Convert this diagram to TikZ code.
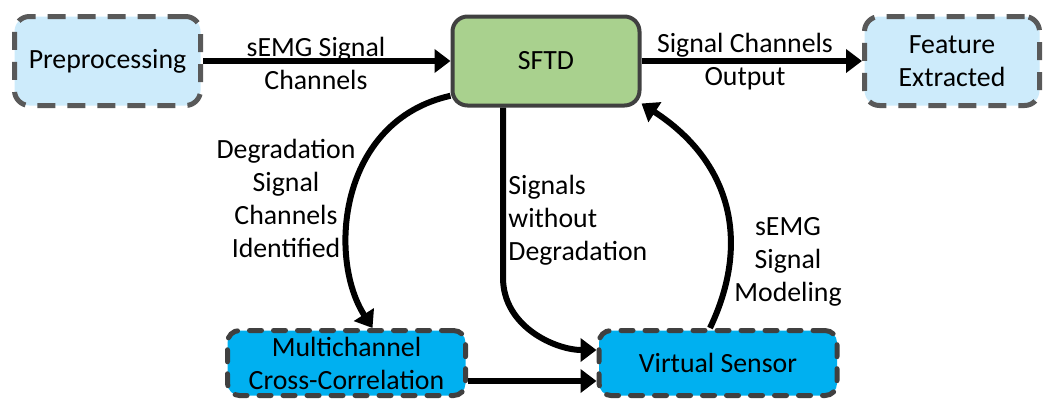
\documentclass[tikz,border=0pt]{standalone}
\usepackage{fontspec}
\setmainfont{Carlito}
\usetikzlibrary{arrows.meta,calc}
\definecolor{lightfill}{HTML}{CDEBFB}
\definecolor{bluefill}{HTML}{00B0F0}
\definecolor{greenfill}{HTML}{A9D18E}
\definecolor{dashgray}{HTML}{595959}
\definecolor{darkgray}{HTML}{404040}
\tikzset{
  topbox/.style={draw=dashgray, fill=lightfill, line width=2.5pt, dash pattern=on 9pt off 6pt,
    rounded corners=7.5pt, minimum height=44.5pt, align=center, inner sep=2pt},
  mainbox/.style={draw=darkgray, fill=greenfill, line width=2pt, rounded corners=7.5pt,
    minimum height=44.5pt, minimum width=93.5pt, align=center},
  lowbox/.style={draw=darkgray, fill=bluefill, line width=2.5pt, dash pattern=on 6pt off 6pt,
    line cap=round, rounded corners=6pt, minimum height=32.5pt, minimum width=119pt, align=center, inner sep=1pt},
  conn/.style={line width=3pt, -{Triangle[length=8pt,width=11.5pt]}},
  lbl/.style={align=center, inner sep=0pt}
}
\begin{document}
\begin{tikzpicture}[x=0.5pt,y=-0.5pt, font=\fontsize{13.9}{16.5}\selectfont]
\useasboundingbox (0,0) rectangle (1045,403);
\node[topbox, minimum width=93pt] (pre) at (107.5,61) {Preprocessing};
\node[mainbox] (sftd) at (546,61) {SFTD};
\node[topbox, minimum width=87.5pt] (feat) at (952,61) {Feature\\Extracted};
\node[lowbox] (multi) at (346.5,363) {Multichannel\\Cross-Correlation};
\node[lowbox] (vs) at (718,363) {Virtual Sensor};

\draw[conn] (pre.east) -- (sftd.west);
\draw[conn] (sftd.east) -- (feat.west);
\draw[conn] (sftd.200) .. controls +(-112,25) and +(-45,-70) .. ($(multi.north)+(26,0)$);
\draw[conn] ($(sftd.south)+(-43,0)$) -- ++(0,170) .. controls +(0,50) and +(-40,0) .. ($(vs.west)+(0,-13)$);
\draw[conn] ($(multi.east)+(0,18)$) -- ($(vs.west)+(0,18)$);
\draw[conn] ($(vs.north)+(-8,0)$) .. controls +(42,-88) and +(88,57) .. ($(sftd.south east)+(0,-4)$);

\node[lbl] (l1) at (316,63) {sEMG Signal\\Channels};
\node[lbl] (l2) at (745,62) {Signal Channels\\Output};
\node[lbl] (l3) at (286,198) {Degradation\\Signal\\Channels\\Identified};
\node[lbl, anchor=west, align=left] (l4) at (508,220) {Signals\\without\\Degradation};
\node[lbl] (l5) at (788,262) {sEMG\\Signal\\Modeling};
\end{tikzpicture}
\end{document}
